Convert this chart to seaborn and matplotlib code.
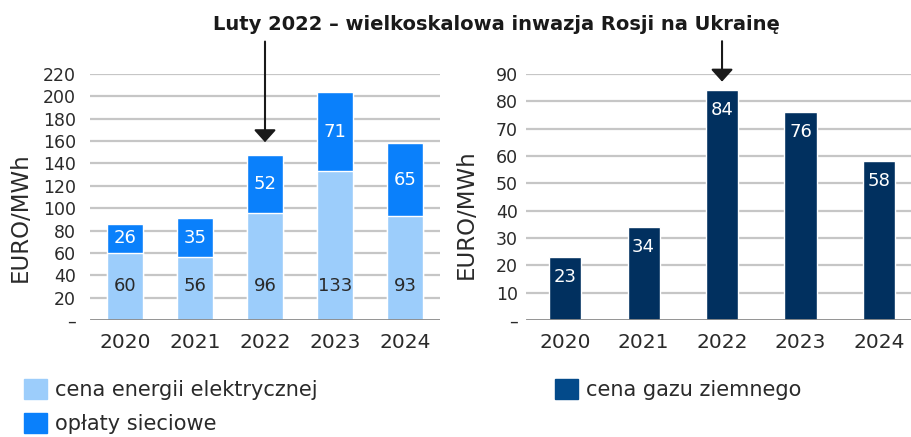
import matplotlib
matplotlib.use("Agg")
import matplotlib.pyplot as plt
import seaborn as sns
import pandas as pd
import numpy as np
from matplotlib.patches import Patch

years = ["2020", "2021", "2022", "2023", "2024"]
energy = [60, 56, 96, 133, 93]
fees = [26, 35, 52, 71, 65]
gas = [23, 34, 84, 76, 58]

title = "Luty 2022 \u2013 wielkoskalowa inwazja Rosji na Ukrain\u0119"
ylabel = "EURO/MWh"
leg_energy = "cena energii elektrycznej"
leg_fees = "op\u0142aty sieciowe"
leg_gas = "cena gazu ziemnego"

c_light = "#9ccdfb"
c_blue = "#0a80fb"
c_navy = "#01305f"
c_navy_leg = "#034a8a"
c_text = "#2a2a2a"
c_grid = "#c6c6c6"

sns.set_style("white")
plt.rcParams["font.family"] = ["DejaVu Sans"]

fig = plt.figure(figsize=(9.12, 4.37), dpi=100)
axL = fig.add_axes([90/912, 1-320/437, 350/912, 246/437])
axR = fig.add_axes([526/912, 1-320/437, 385/912, 246/437])

df = pd.DataFrame({"year": years, "energy": energy, "fees": fees, "gas": gas})
df["total"] = df["energy"] + df["fees"]

sns.barplot(data=df, x="year", y="total", color=c_blue, width=0.51, ax=axL,
            saturation=1, zorder=3)
sns.barplot(data=df, x="year", y="energy", color=c_light, width=0.51, ax=axL,
            saturation=1, zorder=3)
sns.barplot(data=df, x="year", y="gas", color=c_navy, width=0.41, ax=axR,
            saturation=1, zorder=3)

def style(ax, ymax, step, xright):
    ax.set_ylim(0, ymax)
    ax.set_xlim(-0.5, xright)
    ticks = np.arange(0, ymax + 1, step)
    ax.set_yticks(ticks)
    ax.set_yticklabels(["\u2013"] + [str(t) for t in ticks[1:]])
    for t in ticks[1:]:
        ax.axhline(t, color=c_grid, lw=1.6, zorder=1)
    ax.axhline(0, color="#8a8a8a", lw=2, zorder=4)
    for s in ax.spines.values():
        s.set_visible(False)
    ax.tick_params(axis="y", length=0, labelsize=12.5, colors=c_text)
    ax.tick_params(axis="x", length=0, labelsize=14.5, colors=c_text, pad=9)
    ax.set_xlabel("")
    ax.set_ylabel(ylabel, fontsize=16.5, color=c_text)

style(axL, 220, 20, 4.5)
style(axR, 90, 10, 4.41)
axL.tick_params(axis="y", pad=10)
axR.tick_params(axis="y", pad=6)
axL.yaxis.set_label_coords(-0.166, 0.42)
axR.yaxis.set_label_coords(-0.125, 0.43)

for i in range(len(years)):
    axL.text(i, 30, str(energy[i]), ha="center", va="center", fontsize=13,
             color=c_text, zorder=5)
    axL.text(i, energy[i] + fees[i] / 2, str(fees[i]), ha="center", va="center",
             fontsize=13, color="white", zorder=5)
    axR.annotate(str(gas[i]), (i, gas[i]), xytext=(0, -14), textcoords="offset points",
                 ha="center", va="center", fontsize=13, color="white", zorder=5)

fig.text(496/912, 1-25/437, title, ha="center", va="center", fontsize=14,
         fontweight="bold", color="#1a1a1a")

arrow = dict(arrowstyle="-|>,head_length=0.5,head_width=0.45", color="#1a1a1a",
             lw=1.5, mutation_scale=15, shrinkA=0, shrinkB=0)
axL.annotate("", xy=(2, 159), xytext=(2, 249), arrowprops=arrow, annotation_clip=False)
axR.annotate("", xy=(2, 87.2), xytext=(2, 102), arrowprops=arrow, annotation_clip=False)

legkw = dict(frameon=False, fontsize=15, handlelength=1.1, handleheight=1.1,
             handletextpad=0.38, labelspacing=0.62, labelcolor=c_text,
             borderaxespad=0, borderpad=0)
fig.legend(handles=[Patch(color=c_light, label=leg_energy),
                    Patch(color=c_blue, label=leg_fees)],
           loc="upper left", bbox_to_anchor=(24/912, 1-379/437), **legkw)
fig.legend(handles=[Patch(color=c_navy_leg, label=leg_gas)],
           loc="upper left", bbox_to_anchor=(555/912, 1-379/437), **legkw)

fig.savefig("out.png", dpi=100)
